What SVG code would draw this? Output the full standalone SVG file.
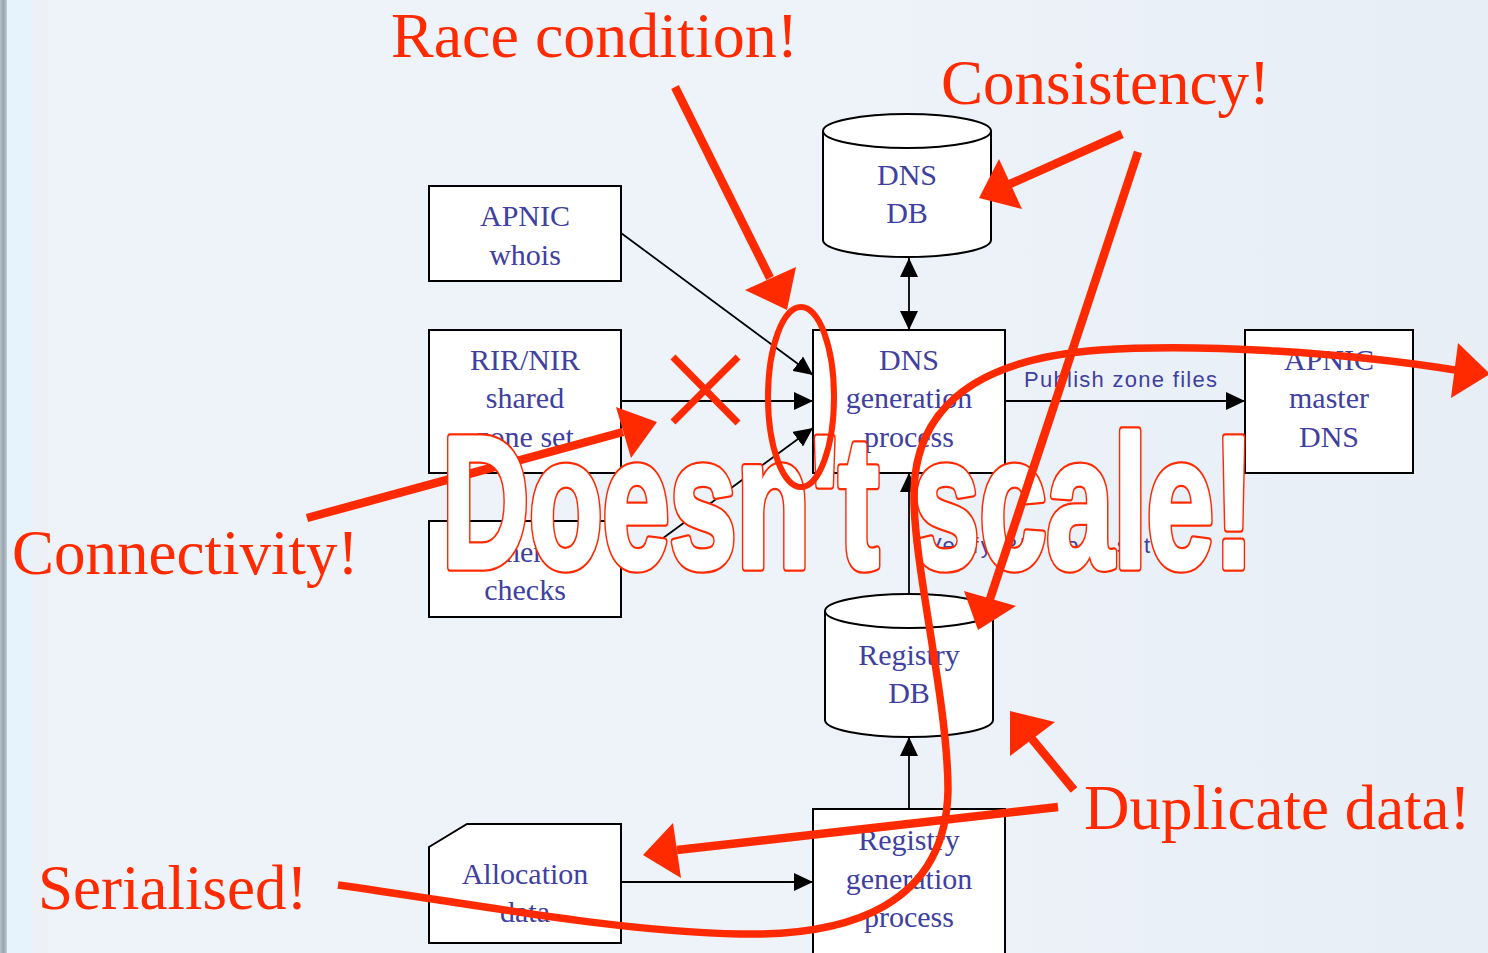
<svg xmlns="http://www.w3.org/2000/svg" width="1488" height="953" viewBox="0 0 1488 953">
<defs>
<linearGradient id="bg" x1="0" y1="0" x2="1" y2="0">
<stop offset="0" stop-color="#EEF3FA"/>
<stop offset="0.55" stop-color="#EEF3FA"/>
<stop offset="1" stop-color="#E7EEF5"/>
</linearGradient>
<linearGradient id="edge" x1="0" y1="0" x2="1" y2="0">
<stop offset="0" stop-color="#B8C2CA"/>
<stop offset="0.5" stop-color="#98A4AE"/>
<stop offset="1" stop-color="#C4CDD4"/>
</linearGradient>
<marker id="ah" viewBox="0 0 19 18" markerWidth="19" markerHeight="18" refX="19" refY="9" orient="auto-start-reverse" markerUnits="userSpaceOnUse">
<path d="M0,0 L19,9 L0,18 z" fill="#000"/>
</marker>
<style>
.box{fill:#fff;stroke:#000;stroke-width:2}
.lbl{font-family:"Liberation Serif","Times New Roman",serif;font-size:30px;fill:#4040A0;text-anchor:middle}
.clbl{font-family:"Liberation Sans",Arial,sans-serif;font-size:22px;fill:#4040A0}
.con{fill:none;stroke:#000;stroke-width:1.8;marker-end:url(#ah)}
.rtxt{font-family:"Liberation Serif","Times New Roman",serif;font-size:63px;fill:#FF2A00}
.rl{fill:none;stroke:#FF2A00;stroke-width:8.5}
.rh{fill:#FF2A00}
.big{font-family:"Liberation Sans",Arial,sans-serif;font-weight:bold;font-size:187px;stroke-linejoin:round}
.bigo{fill:#FF2A00;stroke:#FF2A00;stroke-width:9.5}
.bigi{fill:#fff;stroke:#fff;stroke-width:5}
</style>
</defs>

<rect x="0" y="0" width="1488" height="953" fill="url(#bg)"/>
<rect x="0" y="0" width="7" height="953" fill="url(#edge)"/>
<rect x="7" y="0" width="25" height="953" fill="#E6F3FC"/>
<rect x="32" y="0" width="16" height="953" fill="#EDF1F6"/>

<g id="connectors">
<path class="con" d="M621,233 L813,375"/>
<path class="con" d="M621,401 L813,401"/>
<path class="con" d="M621,569 L813,428"/>
<path class="con" style="marker-start:url(#ah)" d="M909,258 L909,330"/>
<path class="con" d="M1005,401 L1245,401"/>
<path class="con" d="M909,593 L909,473"/>
<path class="con" d="M909,809 L909,737"/>
<path class="con" d="M621,882 L813,882"/>
<text class="clbl" x="1024" y="387" textLength="193" lengthAdjust="spacing">Publish zone files</text>
<text class="clbl" x="927" y="553" textLength="223" lengthAdjust="spacing">Verify RIR zone set</text>
</g>

<g id="n-whois">
<rect class="box" x="429" y="186" width="192" height="95"/>
<text class="lbl" x="525" y="226">APNIC</text>
<text class="lbl" x="525" y="265">whois</text>
</g>
<g id="n-rir">
<rect class="box" x="429" y="330" width="192" height="143"/>
<text class="lbl" x="525" y="370">RIR/NIR</text>
<text class="lbl" x="525" y="408">shared</text>
<text class="lbl" x="525" y="447">zone set</text>
</g>
<g id="n-checks">
<rect class="box" x="429" y="521" width="192" height="96"/>
<text class="lbl" x="525" y="562">Lameness</text>
<text class="lbl" x="525" y="600">checks</text>
</g>
<g id="n-dnsdb">
<path class="box" d="M823,131 A84,17 0 0 1 991,131 L991,240 A84,17 0 0 1 823,240 Z"/>
<path class="box" style="fill:none" d="M823,131 A84,17 0 0 0 991,131"/>
<text class="lbl" x="907" y="185">DNS</text>
<text class="lbl" x="907" y="223">DB</text>
</g>
<g id="n-dnsgen">
<rect class="box" x="813" y="330" width="192" height="143"/>
<text class="lbl" x="909" y="370">DNS</text>
<text class="lbl" x="909" y="408">generation</text>
<text class="lbl" x="909" y="447">process</text>
</g>
<g id="n-master">
<rect class="box" x="1245" y="330" width="168" height="143"/>
<text class="lbl" x="1329" y="370">APNIC</text>
<text class="lbl" x="1329" y="408">master</text>
<text class="lbl" x="1329" y="447">DNS</text>
</g>
<g id="n-regdb">
<path class="box" d="M825,611 A84,17 0 0 1 993,611 L993,720 A84,17 0 0 1 825,720 Z"/>
<path class="box" style="fill:none" d="M825,611 A84,17 0 0 0 993,611"/>
<text class="lbl" x="909" y="665">Registry</text>
<text class="lbl" x="909" y="703">DB</text>
</g>
<g id="n-alloc">
<path class="box" d="M429,847 L467,824 L621,824 L621,943 L429,943 Z"/>
<text class="lbl" x="525" y="884">Allocation</text>
<text class="lbl" x="525" y="922">data</text>
</g>
<g id="n-reggen">
<rect class="box" x="813" y="809" width="192" height="152"/>
<text class="lbl" x="909" y="850">Registry</text>
<text class="lbl" x="909" y="889">generation</text>
<text class="lbl" x="909" y="927">process</text>
</g>

<g id="connectivity-note">
<text class="rtxt" x="12" y="574">Connectivity!</text>
<path class="rl" d="M307,518 L623,432"/>
<polygon class="rh" points="616,407 657,422 631,458"/>
</g>

<g id="doesnt-scale">
<text class="big bigo" x="442" y="567" textLength="812" lengthAdjust="spacingAndGlyphs">Doesn't scale!</text>
<text class="big bigi" x="442" y="567" textLength="812" lengthAdjust="spacingAndGlyphs">Doesn't scale!</text>
</g>

<g id="annotations">
<text class="rtxt" x="391" y="57" style="font-size:64px">Race condition!</text>
<path class="rl" d="M675,87 L770,278"/>
<polygon class="rh" points="745,290 796,267 787,310"/>

<path class="rl" style="stroke-width:7" d="M673,357 L738,423 M738,357 L673,422"/>
<ellipse cx="801" cy="397" rx="33" ry="90" fill="none" stroke="#FF2A00" stroke-width="6"/>

<text class="rtxt" x="941" y="104">Consistency!</text>
<path class="rl" d="M1122,134 L1010,184"/>
<polygon class="rh" points="999,159 979,198 1022,209"/>
<path class="rl" d="M1138,152 L990,599"/>
<polygon class="rh" points="964,591 1016,606 978,630"/>

<text class="rtxt" x="1084" y="829">Duplicate data!</text>
<path class="rl" d="M1074,790 L1032,739"/>
<polygon class="rh" points="1010,711 1055,722 1010,756"/>
<path class="rl" d="M1058,807 L677,850"/>
<polygon class="rh" points="673,823 643,855 681,878"/>

<text class="rtxt" x="38" y="909">Serialised!</text>
<path class="rl" style="stroke-width:7.5" d="M338,885 C480,905 620,932 740,934 C850,936 946,905 948,790 C948,700 912,560 914,490 C916,420 960,360 1100,350 C1200,343 1350,353 1455,370"/>
<polygon class="rh" points="1458,343 1490,374 1451,398"/>
</g>
</svg>
